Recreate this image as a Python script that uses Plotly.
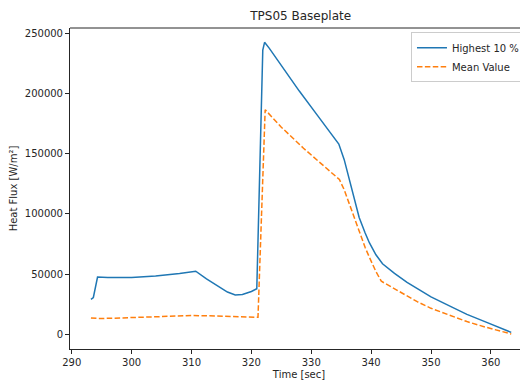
import plotly.graph_objects as go

# Highest 10 % series
time_high = [293.2, 293.6, 294.3, 296.0, 300.0, 304.0, 308.0, 310.7, 312.5, 314.5,
             316.0, 317.3, 318.5, 320.0, 320.9, 321.9, 322.2, 323.0, 325.0, 328.0,
             331.0, 333.5, 334.6, 335.5, 336.3, 337.2, 338.0, 339.0, 339.7, 340.8,
             341.9, 343.9, 346.0, 348.0, 350.0, 353.5, 356.0, 359.2, 361.5, 363.4]
highest = [29000, 30500, 47500, 47200, 47200, 48300, 50500, 52300, 46000, 39500,
           35000, 32600, 33000, 35500, 37800, 236000, 242500, 237500, 223000, 202000,
           182000, 165500, 158000, 145000, 130000, 112000, 97000, 84000, 76000, 66000,
           58500, 50500, 43000, 37000, 31000, 22500, 16500, 10000, 5500, 1500]

# Mean Value series
time_mean = [293.2, 294.5, 297.0, 300.0, 305.0, 310.0, 313.0, 317.0, 321.1, 322.3,
             325.0, 328.7, 332.0, 334.7, 335.5, 336.3, 337.2, 338.0, 339.0, 339.7,
             340.8, 341.7, 343.9, 347.7, 350.0, 353.4, 356.0, 359.0, 361.5, 363.4]
mean_val = [13500, 13000, 13300, 13900, 14700, 15500, 15300, 14600, 14000, 186500,
            172000, 154500, 140000, 128500, 120000, 109000, 96000, 84000, 72000, 64000,
            52000, 44000, 37500, 27000, 21500, 15000, 10500, 6000, 3000, 200]

x_ticks = [290, 300, 310, 320, 330, 340, 350, 360]
y_ticks = [0, 50000, 100000, 150000, 200000, 250000]

FONT = "DejaVu Sans"
W, H = 520, 373  # page body adds an 8px offset inside the 528x381 window

fig = go.Figure()
fig.add_trace(go.Scatter(x=time_high, y=highest, mode="lines", name="Highest 10 %",
                         line=dict(color="#1f77b4", width=1.5)))
fig.add_trace(go.Scatter(x=time_mean, y=mean_val, mode="lines", name="Mean Value",
                         line=dict(color="#ff7f0e", width=1.5, dash="5.5px,2.4px")))

axis_common = dict(showgrid=False, zeroline=False, showline=True, linecolor="#262626",
                   linewidth=1, ticks="outside", ticklen=4, tickwidth=1, tickcolor="#262626",
                   tickfont=dict(family=FONT, size=10, color="#262626"), mirror=False)

fig.update_layout(
    width=W, height=H,
    margin=dict(l=62, r=0, t=20, b=32),
    paper_bgcolor="white", plot_bgcolor="white",
    font=dict(family=FONT, size=10, color="#262626"),
    title=dict(text="TPS05 Baseplate", x=292.7 / W, xref="container", xanchor="center",
               y=1 - 8 / H, yref="container", yanchor="middle",
               font=dict(family=FONT, size=12, color="#262626")),
    xaxis=dict(range=[289.7, 366.2], tickvals=x_ticks, ticktext=[str(v) for v in x_ticks],
               title=dict(text="Time [sec]", standoff=3, font=dict(family=FONT, size=10)),
               **axis_common),
    yaxis=dict(range=[-12300, 254400], tickvals=y_ticks, ticktext=[str(v) for v in y_ticks],
               title=dict(text="Heat Flux [W/m²]", standoff=5, font=dict(family=FONT, size=10)),
               **axis_common),
    legend=dict(x=0.9934, xanchor="right", y=0.987, yanchor="top",
                bgcolor="rgba(255,255,255,0.8)", bordercolor="#cccccc", borderwidth=1,
                font=dict(family=FONT, size=10, color="#262626"), itemwidth=30,
                tracegroupgap=0),
    showlegend=True,
)
fig.add_shape(type="line", xref="paper", yref="paper", x0=0, x1=1, y0=1, y1=1,
              line=dict(color="#262626", width=1))

fig.write_html("out.html")
